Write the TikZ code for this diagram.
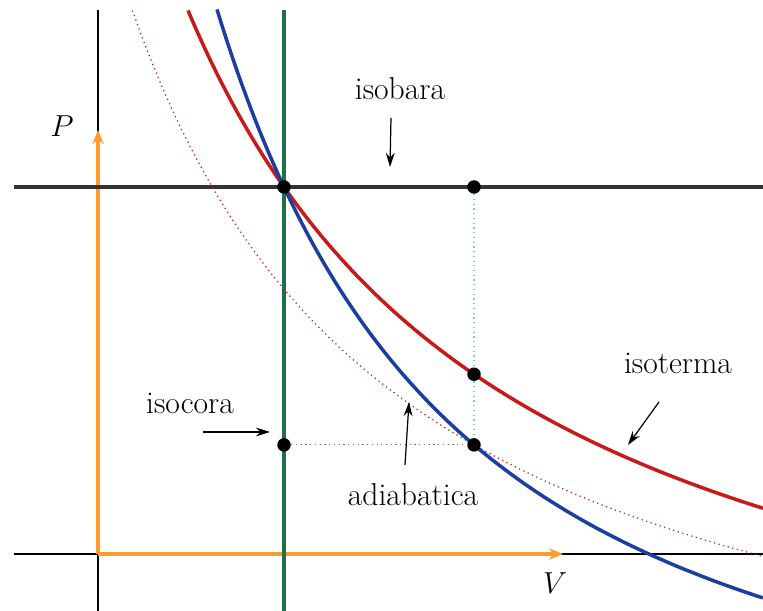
\documentclass[tikz,border=0pt]{standalone}
\usepackage{xcolor}
\definecolor{isoRed}{HTML}{C81A1A}
\definecolor{adiaBlue}{HTML}{1A3FA0}
\definecolor{isoGreen}{HTML}{1E7048}
\definecolor{axisOrange}{HTML}{FF9A2E}
\usepackage{tikz}
\usetikzlibrary{calc,arrows.meta}

\tikzset{
  declare function={
    isoT(\x)=103.43/(\x+4.8)-4.8;
    adiab(\x)=12.14*(8.52/(\x+4.8))^1.5-4.8;
    isoTlow(\x)=86.02/(\x+4.8)-4.8;
  },
  statept/.style={circle, fill=black, inner sep=0pt, minimum size=0.27cm},
  lbl/.style={font=\fontsize{18}{20}\selectfont},
  lblarrow/.style={-{Stealth[length=8pt,width=5pt]}, line width=0.7pt},
  axarrow/.style={-{Stealth[length=8pt,width=6.5pt]}, axisOrange, line width=2pt},
  curve/.style={line width=2pt, smooth, samples=120}
}

\begin{document}
\begin{tikzpicture}
  \useasboundingbox (-1.96,-1.14) rectangle (13.30,11.08);
  % ------- axes -------
  \draw[line width=1pt] (-1.68,0) -- (13.30,0);
  \draw[line width=1pt] (0,-1.14) -- (0,10.88);
  \draw[axarrow] (0,0) -- (0,8.48);
  \draw[axarrow] (0,0) -- (9.30,0);
  \node[lbl] (Plab) at (-0.72,8.56) {$P$};
  \node[lbl] (Vlab) at (9.14,-0.58) {$V$};
  % ------- isocora and isobara -------
  \draw[isoGreen, line width=2.2pt] (3.72,-1.14) -- (3.72,10.88);
  \draw[black!80, line width=2pt] (-1.68,7.34) -- (13.30,7.34);
  % ------- isoterme and adiabatica -------
  \draw[isoRed, dotted, line width=0.7pt, smooth, samples=120]
    plot[domain=0.69:13.30] (\x,{isoTlow(\x)});
  \draw[isoRed, curve] plot[domain=1.80:13.30] (\x,{isoT(\x)});
  \draw[adiaBlue, curve] plot[domain=2.38:13.30] (\x,{adiab(\x)});
  % ------- states -------
  \node[statept] (A) at (3.72,7.34) {};
  \node[statept] (B) at (7.52,7.34) {};
  \node[statept] (C) at (7.52,{isoT(7.52)}) {};
  \node[statept] (D) at (7.52,{adiab(7.52)}) {};
  \node[statept] (E) at (3.72,{adiab(7.52)}) {};
  \draw[isoGreen!55!cyan!60, dotted, line width=0.7pt] (B) -- (C);
  \draw[isoGreen!55!cyan!60, dotted, line width=0.7pt] (C) -- (D);
  \draw[black!55, dotted, line width=0.7pt] (E) -- (D);
  % ------- labels -------
  \node[lbl] (isobara) at (6.04,9.30) {isobara};
  \coordinate (isobaraS) at (5.86,8.72);
  \coordinate (isobaraT) at (5.84,7.74);
  \draw[lblarrow] (isobaraS) -- (isobaraT);
  \node[lbl] (isocora) at (1.84,3.02) {isocora};
  \coordinate (isocoraS) at (2.10,2.44);
  \coordinate (isocoraT) at (3.44,2.44);
  \draw[lblarrow] (isocoraS) -- (isocoraT);
  \node[lbl] (adiabatica) at (6.30,1.18) {adiabatica};
  \coordinate (adiabaticaS) at (6.14,1.78);
  \coordinate (adiabaticaT) at (6.22,3.04);
  \draw[lblarrow] (adiabaticaS) -- (adiabaticaT);
  \node[lbl] (isoterma) at (11.60,3.82) {isoterma};
  \coordinate (isotermaS) at (11.22,3.04);
  \coordinate (isotermaT) at (10.60,2.18);
  \draw[lblarrow] (isotermaS) -- (isotermaT);
\end{tikzpicture}
\end{document}
